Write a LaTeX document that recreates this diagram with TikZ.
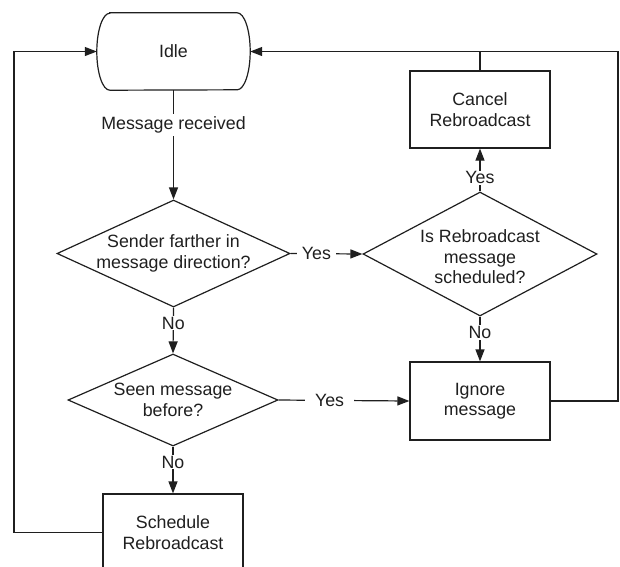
\documentclass[tikz,border=0pt]{standalone}
\usepackage{fontspec}
\setmainfont{Liberation Sans}
\usetikzlibrary{shapes.geometric,arrows.meta}
\begin{document}
\begin{tikzpicture}[x=1pt,y=-1pt,
  every node/.style={font=\fontsize{17.8}{20.5}\selectfont, text=black!88},
  ln/.style={line width=1.2pt, draw=black!88},
  arr/.style={ln, -{Triangle[length=12pt,width=9pt]}},
  term/.style={shape=rectangle, minimum width=153pt, minimum height=77pt, inner sep=0pt},
  dia/.style={ln, shape=diamond, inner sep=0pt},
  boxn/.style={ln, shape=rectangle, minimum width=140pt, minimum height=77pt, align=center, inner sep=0pt},
  txt/.style={align=center, inner sep=0pt},
  lab/.style={fill=white, inner sep=3pt}
]
\clip (0,0) rectangle (620,566);
\node[term] (idle) at (173.5,51.5) {Idle};
\draw[ln] ([xshift=13pt]idle.north west) -- ([xshift=-13pt]idle.north east)
  arc[start angle=90, end angle=-90, x radius=13pt, y radius=38.5pt]
  -- ([xshift=13pt]idle.south west)
  arc[start angle=-90, end angle=-270, x radius=13pt, y radius=38.5pt] -- cycle;
\node[dia, minimum width=233pt, minimum height=107pt] (d1) at (173.5,253.5) {};
\node[txt] (d1t) at (d1.center) {Sender farther in\\message direction?};
\node[dia, minimum width=234pt, minimum height=124pt] (d2) at (480,254) {};
\node[txt] (d2t) at (480,257) {Is Rebroadcast\\message\\scheduled?};
\node[dia, minimum width=210pt, minimum height=92pt] (d3) at (173,400) {};
\node[txt] (d3t) at (d3.center) {Seen message\\before?};
\node[boxn] (cancel) at (480,109.5) {Cancel\\Rebroadcast};
\node[boxn, minimum height=78pt] (ignore) at (480,401) {Ignore\\message};
\node[boxn] (sched) at (173,532.5) {Schedule\\Rebroadcast};
\coordinate (rr) at (618,51.5);
\coordinate (ll) at (14,51.5);

\draw[arr] (idle.south) -- node[lab, pos=0.32] (mr) {Message received} (d1.north);
\draw[arr] (d1.east) -- node[lab, pos=0.36, inner xsep=5pt] (y1) {Yes} (d2.west);
\draw[arr] (d2.north) -- node[lab, pos=0.32, inner sep=1pt] (y2) {Yes} (cancel.south);
\draw[ln] (cancel.north) -- (cancel.north |- idle.east);
\draw[arr] (d2.south) -- node[lab, pos=0.35, inner sep=1pt] (n2) {No} (ignore.north);
\draw[arr] (d1.south) -- node[lab, pos=0.34, inner sep=1pt] (n1) {No} (d3.north);
\draw[arr] (d3.east) -- node[lab, pos=0.39, inner xsep=10pt] (y3) {Yes} (ignore.west);
\draw[arr] (d3.south) -- node[lab, pos=0.33, inner sep=1pt] (n3) {No} (sched.north);
\draw[arr] (ignore.east) -| (rr) -- (idle.east);
\draw[arr] (sched.west) -| (ll) -- (idle.west);
\end{tikzpicture}
\end{document}
